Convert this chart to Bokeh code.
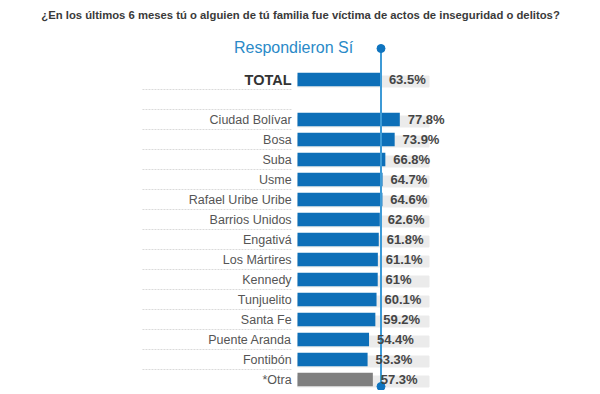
from bokeh.plotting import figure
from bokeh.models import ColumnDataSource, Range1d
from bokeh.core.properties import value
from bokeh.embed import file_html
from bokeh.resources import INLINE

title_text = "¿En los últimos 6 meses tú o alguien de tú familia fue víctima de actos de inseguridad o delitos?"
subtitle_text = "Respondieron Sí"

total_label = "TOTAL"
total_value = 63.5

districts = ["Ciudad Bolívar", "Bosa", "Suba", "Usme", "Rafael Uribe Uribe", "Barrios Unidos",
             "Engativá", "Los Mártires", "Kennedy", "Tunjuelito", "Santa Fe", "Puente Aranda",
             "Fontibón", "*Otra"]
district_values = [77.8, 73.9, 66.8, 64.7, 64.6, 62.6, 61.8, 61.1, 61.0, 60.1, 59.2, 54.4, 53.3, 57.3]

BLUE = "#0d6fb8"
GREY_BAR = "#7f7f7f"
BG = "#ebebeb"

# row positions (row 1 is an empty spacer)
rows = [0] + [i + 2 for i in range(len(districts))]
names = [total_label] + districts
vals = [total_value] + district_values
colors = [BLUE] + [BLUE] * (len(districts) - 1) + [GREY_BAR]
labels = [f"{v:g}%" for v in vals]

W, H = 584, 390
px_per_unit = 1.315
x0 = -297 / px_per_unit
x1 = x0 + W / px_per_unit
y_top = (0 - 79) / 20.0
y_bot = (H - 79) / 20.0

p = figure(width=W, height=H, output_backend="svg", toolbar_location=None,
           x_range=Range1d(x0, x1), y_range=Range1d(y_bot, y_top),
           min_border=0, outline_line_color=None)
p.axis.visible = False
p.grid.visible = False
p.background_fill_color = "white"

src = ColumnDataSource(dict(y=rows, name=names, v=vals, color=colors, label=labels,
                            full=[100] * len(rows), ybg=[r + 0.1 for r in rows],
                            lx=[v + 6 for v in vals]))

# dotted separators
sep_y = [r + 0.5 for r in range(0, 15)]
p.segment(x0=[-117.9] * len(sep_y), x1=[-4.0] * len(sep_y), y0=sep_y, y1=sep_y,
          line_color="#dadada", line_width=1, line_dash="2 1")

# background bars
p.hbar(y="ybg", left=0, right="full", height=0.55, color=BG, source=src)
# value bars
p.hbar(y="y", left=0, right="v", height=0.68, fill_color="color", line_color=None, source=src)

# reference line
p.segment(x0=[total_value], x1=[total_value], y0=[-1.55], y1=[15.35], line_color="#3d9ad6", line_width=2)
p.scatter(x=[total_value, total_value], y=[-1.55, 15.35], size=8, color="#0f74bf")

# category labels
dsrc = ColumnDataSource(dict(y=rows[1:], name=names[1:]))
p.text(x=-4.5, y="y", text="name", source=dsrc, text_align="right", text_baseline="middle",
       text_font=value("Liberation Sans"), text_font_size="12.5px", text_color="#555555")
p.text(x=[-4.5], y=[0], text=[total_label], text_align="right", text_baseline="middle",
       text_font=value("Liberation Sans"), text_font_size="14.5px", text_font_style="bold",
       text_color="#333333")

# value labels
p.text(x="lx", y="y", text="label", source=src, text_align="left", text_baseline="middle",
       text_font=value("Liberation Sans"), text_font_size="13px", text_font_style="bold",
       text_color="#454545")

# titles
p.text(x=[2.3], y=[-3.25], text=[title_text], text_align="center", text_baseline="middle",
       text_font=value("Liberation Sans"), text_font_size="11.3px", text_font_style="bold",
       text_color="#3a3a3a")
p.text(x=[-3.0], y=[-1.6], text=[subtitle_text], text_align="center", text_baseline="middle",
       text_font=value("Liberation Sans"), text_font_size="16px", text_color="#2a8ac8")

open("out.html", "w").write(file_html(p, INLINE))
